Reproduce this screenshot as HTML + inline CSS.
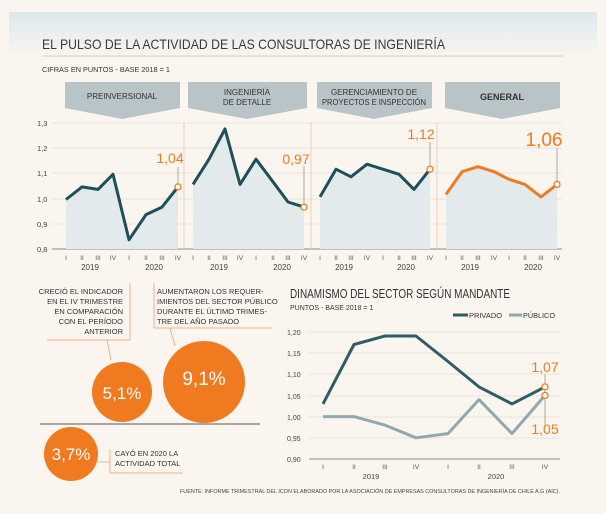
<!DOCTYPE html>
<html><head><meta charset="utf-8"><style>
html,body{margin:0;padding:0;background:#fbf5ef;}
svg{display:block;font-family:"Liberation Sans",sans-serif;}
</style></head><body>
<svg width="606" height="514" viewBox="0 0 606 514" xmlns="http://www.w3.org/2000/svg">
<defs>
<linearGradient id="tg" x1="0" y1="0" x2="0" y2="1">
<stop offset="0" stop-color="#dce9ec"/><stop offset="1" stop-color="#fbf5ef"/>
</linearGradient>
</defs>
<rect x="0" y="0" width="606" height="514" fill="#fbf5ef"/>
<rect x="9" y="12" width="588" height="46" fill="url(#tg)"/>
<text x="42" y="49" font-size="14" fill="#3a3a3a" textLength="403" lengthAdjust="spacingAndGlyphs">EL PULSO DE LA ACTIVIDAD DE LAS CONSULTORAS DE INGENIERÍA</text>
<line x1="42" y1="56" x2="564" y2="56" stroke="#d8cfc8" stroke-width="1"/>
<text x="42" y="72" font-size="7.5" fill="#333" textLength="128" lengthAdjust="spacingAndGlyphs">CIFRAS EN PUNTOS - BASE 2018 = 1</text>

<g fill="#b8c4c7">
<polygon points="65,82 180,82 180,108 122,119 65,108"/>
<polygon points="188,82 307,82 307,108 247,119 188,108"/>
<polygon points="317,82 432,82 432,108 374,119 317,108"/>
<polygon points="445,82 560,82 560,108 502,119 445,108"/>
</g>
<g font-size="8" fill="#333" text-anchor="middle">
<text x="122" y="99">PREINVERSIONAL</text>
<text x="247" y="95">INGENIERÍA</text><text x="247" y="105">DE DETALLE</text>
<text x="374" y="95">GERENCIAMIENTO DE</text><text x="374" y="105" textLength="104" lengthAdjust="spacingAndGlyphs">PROYECTOS E INSPECCIÓN</text>
<text x="502" y="100" font-weight="bold" font-size="9">GENERAL</text>
</g>

<g stroke="#e6ddd6" stroke-width="0.8">
<line x1="52" y1="123" x2="562" y2="123"/><line x1="52" y1="148" x2="562" y2="148"/>
<line x1="52" y1="173" x2="562" y2="173"/><line x1="52" y1="199" x2="562" y2="199"/>
<line x1="52" y1="224" x2="562" y2="224"/>
</g>
<line x1="52" y1="249" x2="562" y2="249" stroke="#666" stroke-width="0.8"/>
<g stroke="#e8c9b3" stroke-width="0.8">
<line x1="184" y1="122" x2="184" y2="249"/><line x1="311" y1="122" x2="311" y2="249"/><line x1="437" y1="122" x2="437" y2="249"/>
</g>
<g font-size="7.5" fill="#444">
<text x="37" y="126">1,3</text><text x="37" y="151">1,2</text><text x="37" y="176">1,1</text>
<text x="37" y="202">1,0</text><text x="37" y="227">0,9</text><text x="37" y="252">0,8</text>
</g>

<g fill="#e3eaec">
<polygon points="66,249 66,199.5 82,186.9 98,189.4 113,174.3 129,239.8 146,214.6 162,207.1 178,186.9 178,249"/>
<polygon points="193,249 193,184.4 209,159.2 225,129 240,184.4 256,159.2 273,181.8 288,202 304,207.1 304,249"/>
<polygon points="320,249 320,196.9 336,169.2 351,176.8 367,164.2 383,169.2 399,174.3 414,189.4 430,169.2 430,249"/>
<polygon points="446,249 446,194.4 462,171.7 478,166.7 494,171.7 509,179.3 525,184.4 541,197 557,184.4 557,249"/>
</g>
<g fill="none" stroke="#1e4f5b" stroke-width="3" stroke-linejoin="round">
<polyline points="66,199.5 82,186.9 98,189.4 113,174.3 129,239.8 146,214.6 162,207.1 178,186.9"/>
<polyline points="193,184.4 209,159.2 225,129 240,184.4 256,159.2 273,181.8 288,202 304,207.1"/>
<polyline points="320,196.9 336,169.2 351,176.8 367,164.2 383,169.2 399,174.3 414,189.4 430,169.2"/>
</g>
<polyline points="446,194.4 462,171.7 478,166.7 494,171.7 509,179.3 525,184.4 541,197 557,184.4" fill="none" stroke="#f07a1f" stroke-width="3" stroke-linejoin="round"/>
<g stroke="#777" stroke-width="0.6">
<line x1="178" y1="167" x2="178" y2="184"/><line x1="304" y1="166" x2="304" y2="204"/>
<line x1="430" y1="142" x2="430" y2="166"/><line x1="557" y1="148" x2="557" y2="181"/>
</g>
<g fill="#fff" stroke="#f07a1f" stroke-width="1.3">
<circle cx="178" cy="186.9" r="3"/><circle cx="304" cy="207.1" r="3"/><circle cx="430" cy="169.2" r="3"/><circle cx="557" cy="184.4" r="3"/>
</g>
<g fill="#f07a1f" text-anchor="middle">
<text x="170" y="163" font-size="14">1,04</text>
<text x="296" y="164" font-size="14">0,97</text>
<text x="421" y="139" font-size="14">1,12</text>
<text x="544" y="146" font-size="19">1,06</text>
</g>
<g font-size="6.5" fill="#555" text-anchor="middle">
<text x="66" y="260">I</text><text x="82" y="260">II</text><text x="98" y="260">III</text><text x="113" y="260">IV</text><text x="129" y="260">I</text><text x="146" y="260">II</text><text x="162" y="260">III</text><text x="178" y="260">IV</text>
<text x="193" y="260">I</text><text x="209" y="260">II</text><text x="225" y="260">III</text><text x="240" y="260">IV</text><text x="256" y="260">I</text><text x="273" y="260">II</text><text x="288" y="260">III</text><text x="304" y="260">IV</text>
<text x="320" y="260">I</text><text x="336" y="260">II</text><text x="351" y="260">III</text><text x="367" y="260">IV</text><text x="383" y="260">I</text><text x="399" y="260">II</text><text x="414" y="260">III</text><text x="430" y="260">IV</text>
<text x="446" y="260">I</text><text x="462" y="260">II</text><text x="478" y="260">III</text><text x="494" y="260">IV</text><text x="509" y="260">I</text><text x="525" y="260">II</text><text x="541" y="260">III</text><text x="557" y="260">IV</text>
</g>
<g font-size="8" fill="#444" text-anchor="middle">
<text x="90" y="270">2019</text><text x="154" y="270">2020</text>
<text x="219" y="270">2019</text><text x="282" y="270">2020</text>
<text x="344" y="270">2019</text><text x="406" y="270">2020</text>
<text x="470" y="270">2019</text><text x="533" y="270">2020</text>
</g>

<g font-size="7.5" fill="#333">
<g text-anchor="end">
<text x="123" y="294">CRECIÓ EL INDICADOR</text><text x="123" y="304">EN EL IV TRIMESTRE</text>
<text x="123" y="314">EN COMPARACIÓN</text><text x="123" y="324">CON EL PERÍODO</text><text x="123" y="334">ANTERIOR</text>
</g>
<text x="157" y="294">AUMENTARON LOS REQUER-</text><text x="157" y="304">IMIENTOS DEL SECTOR PÚBLICO</text>
<text x="157" y="314">DURANTE EL ÚLTIMO TRIMES-</text><text x="157" y="324">TRE DEL AÑO PASADO</text>
<text x="115" y="456">CAYÓ EN 2020 LA</text><text x="115" y="466">ACTIVIDAD TOTAL</text>
</g>
<g stroke="#f0a06a" stroke-width="0.8" fill="none">
<polyline points="130,283 130,340 47,340"/><line x1="107" y1="340" x2="111" y2="360"/>
<polyline points="154,283 154,328 272,328"/><line x1="170" y1="328" x2="175" y2="346"/>
<polyline points="110,450 110,473 183,473"/><line x1="98" y1="462" x2="110" y2="462"/>
</g>
<line x1="40" y1="424" x2="260" y2="424" stroke="#555" stroke-width="1"/>
<g fill="#f07a1f">
<circle cx="122" cy="392" r="30"/><circle cx="204" cy="382" r="41"/><circle cx="71" cy="454" r="27"/>
</g>
<g fill="#fff" text-anchor="middle" font-size="17">
<text x="122" y="399">5,1%</text><text x="204" y="385" font-size="19">9,1%</text><text x="71" y="460">3,7%</text>
</g>

<text x="290" y="298" font-size="13" fill="#333" textLength="220" lengthAdjust="spacingAndGlyphs">DINAMISMO DEL SECTOR SEGÚN MANDANTE</text>
<text x="290" y="310" font-size="7" fill="#333">PUNTOS - BASE 2018 = 1</text>
<line x1="453" y1="315" x2="468" y2="315" stroke="#2f5d66" stroke-width="3"/>
<text x="469" y="318" font-size="7.5" fill="#333" textLength="33" lengthAdjust="spacingAndGlyphs">PRIVADO</text>
<line x1="509" y1="315" x2="522" y2="315" stroke="#8eaaae" stroke-width="3"/>
<text x="523" y="318" font-size="7.5" fill="#333" textLength="32" lengthAdjust="spacingAndGlyphs">PÚBLICO</text>
<g stroke="#e6ddd6" stroke-width="0.8">
<line x1="309" y1="332" x2="560" y2="332"/><line x1="309" y1="353" x2="560" y2="353"/><line x1="309" y1="374" x2="560" y2="374"/>
<line x1="309" y1="396" x2="560" y2="396"/><line x1="309" y1="417" x2="560" y2="417"/><line x1="309" y1="438" x2="560" y2="438"/>
</g>
<line x1="309" y1="459" x2="560" y2="459" stroke="#666" stroke-width="0.8"/>
<g font-size="7" fill="#444">
<text x="287" y="335">1,20</text><text x="287" y="356">1,15</text><text x="287" y="377">1,10</text>
<text x="287" y="399">1,05</text><text x="287" y="420">1,00</text><text x="287" y="441">0,95</text><text x="287" y="462">0,90</text>
</g>
<polyline points="323,416.6 354,416.6 385,425.1 416,437.8 448,433.6 479,399.6 512,433.6 545,395.4" fill="none" stroke="#8eaaae" stroke-width="3" stroke-linejoin="round"/>
<polyline points="323,403.9 354,344.5 385,336 416,336 448,361.5 479,386.9 512,403.9 545,386.9" fill="none" stroke="#2f5d66" stroke-width="3" stroke-linejoin="round"/>
<line x1="545" y1="374" x2="545" y2="425" stroke="#777" stroke-width="0.6"/>
<g fill="#fff" stroke="#f07a1f" stroke-width="1.3">
<circle cx="545" cy="386.9" r="3"/><circle cx="545" cy="395.4" r="3"/>
</g>
<g fill="#f07a1f" font-size="14" text-anchor="middle">
<text x="545" y="372">1,07</text><text x="545" y="434">1,05</text>
</g>
<g font-size="6.5" fill="#555" text-anchor="middle">
<text x="323" y="469">I</text><text x="354" y="469">II</text><text x="385" y="469">III</text><text x="416" y="469">IV</text>
<text x="448" y="469">I</text><text x="479" y="469">II</text><text x="512" y="469">III</text><text x="545" y="469">IV</text>
</g>
<g font-size="7.5" fill="#444" text-anchor="middle"><text x="371" y="479">2019</text><text x="496" y="479">2020</text></g>
<text x="180" y="493" font-size="5.5" fill="#444" textLength="380" lengthAdjust="spacingAndGlyphs">FUENTE: INFORME TRIMESTRAL DEL ICON ELABORADO POR LA ASOCIACIÓN DE EMPRESAS CONSULTORAS DE INGENIERÍA DE CHILE A.G (AIC).</text>
</svg>
</body></html>
